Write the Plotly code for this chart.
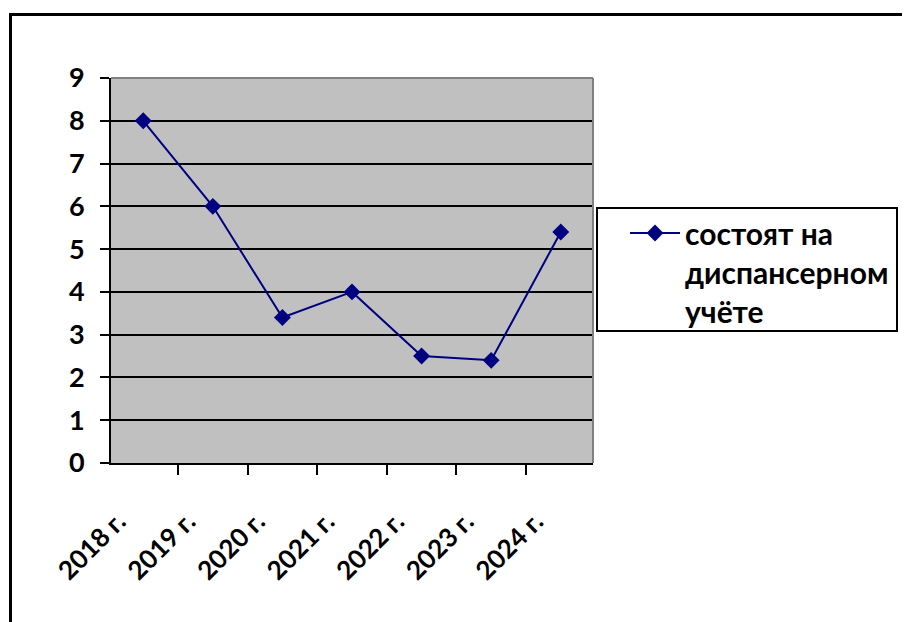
import plotly.graph_objects as go

years = ["2018 г.", "2019 г.", "2020 г.", "2021 г.", "2022 г.", "2023 г.", "2024 г."]
values = [8, 6, 3.4, 4, 2.5, 2.4, 5.4]
series_name = "состоят на<br>диспансерном<br>учёте"
y_ticks = [0, 1, 2, 3, 4, 5, 6, 7, 8, 9]

FONT = "Lato"
NAVY = "#000080"
OFF = 8  # default page margin of the html body

fig = go.Figure()
fig.add_trace(go.Scatter(
    x=years, y=values, name=series_name, mode="lines+markers",
    line=dict(color=NAVY, width=2),
    marker=dict(symbol="diamond", size=13, color=NAVY),
))

W, H = 910 - OFF, 622 - OFF
L, R, T, B = 111 - OFF, 593 - OFF, 78 - OFF, 463 - OFF
pw, ph = R - L, B - T

def px(x):
    return (x - OFF - L) / pw

def py(y):
    return (B - (y - OFF)) / ph

fig.update_layout(
    width=W, height=H,
    margin=dict(l=L, r=W - R, t=T, b=H - B),
    paper_bgcolor="white",
    plot_bgcolor="#C0C0C0",
    font=dict(family=FONT, color="black", size=20),
    showlegend=True,
    legend=dict(
        x=px(625), y=py(207), xanchor="left", yanchor="top",
        borderwidth=0, bgcolor="rgba(0,0,0,0)",
        font=dict(family=FONT, size=30, color="black", weight="bold"),
        itemwidth=50, valign="top",
    ),
    xaxis=dict(
        type="category", tickson="boundaries", ticks="outside", ticklen=10,
        tickwidth=2, tickcolor="black",
        showline=True, linecolor="black", linewidth=2,
        showgrid=False, tickangle=-45,
        ticklabelstandoff=31, ticklabelshift=-25,
        tickfont=dict(family=FONT, size=26, color="black", weight="bold"),
    ),
    yaxis=dict(
        range=[0, 9], tickvals=y_ticks, ticks="outside", ticklen=9,
        tickwidth=2, tickcolor="black",
        showline=True, linecolor="black", linewidth=2,
        showgrid=True, gridcolor="black", gridwidth=2, zeroline=False,
        tickfont=dict(family=FONT, size=27, color="black", weight="bold"),
        ticklabelstandoff=10,
    ),
    shapes=[
        # outer chart frame (cut by the picture edges)
        dict(type="rect", xref="paper", yref="paper",
             x0=px(10.5), x1=px(925), y0=py(640), y1=py(14.5),
             line=dict(color="black", width=3), layer="below"),
        # legend box
        dict(type="rect", xref="paper", yref="paper",
             x0=px(597), x1=px(897), y0=py(331), y1=py(208),
             line=dict(color="black", width=2), fillcolor="white", layer="below"),
        # grey plot-area border on top and right
        dict(type="line", xref="paper", yref="paper", x0=0, x1=1, y0=1, y1=1,
             line=dict(color="#808080", width=2), layer="above"),
        dict(type="line", xref="paper", yref="paper", x0=1, x1=1, y0=0, y1=1,
             line=dict(color="#808080", width=2), layer="above"),
    ],
)

fig.write_html("out.html")
